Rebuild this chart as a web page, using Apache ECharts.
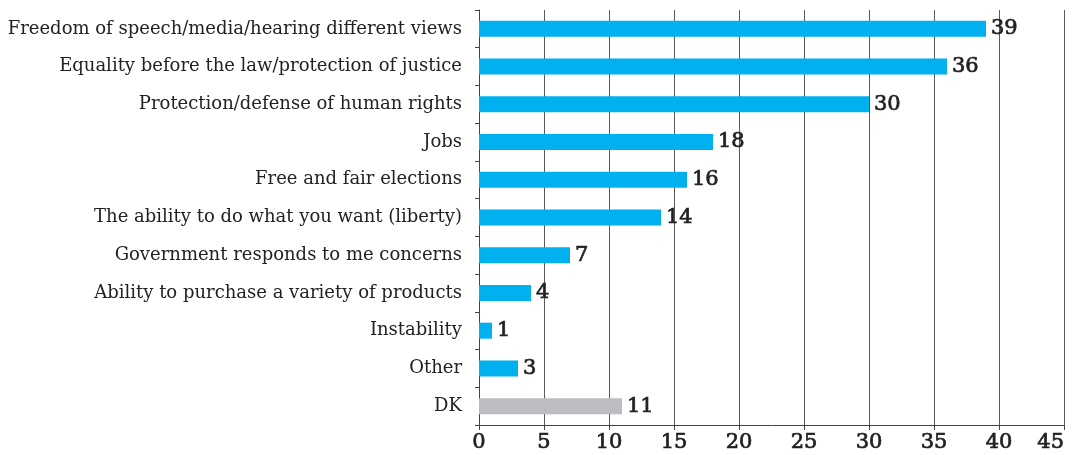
<!DOCTYPE html>
<html>
<head>
<meta charset="utf-8">
<script src="https://cdn.jsdelivr.net/npm/echarts@6/dist/echarts.min.js"></script>
<style>
  html, body { margin: 0; padding: 0; background: #fff; }
  #chart { width: 1073px; height: 455px; }
</style>
</head>
<body>
<div id="chart"></div>
<script>
// Survey responses, top to bottom
const categories = [
  'Freedom of speech/media/hearing different views',
  'Equality before the law/protection of justice',
  'Protection/defense of human rights',
  'Jobs',
  'Free and fair elections',
  'The ability to do what you want (liberty)',
  'Government responds to me concerns',
  'Ability to purchase a variety of products',
  'Instability',
  'Other',
  'DK'
];
const values = [39, 36, 30, 18, 16, 14, 7, 4, 1, 3, 11];
const xTicks = [0, 5, 10, 15, 20, 25, 30, 35, 40, 45];
const greyCategories = ['DK'];

const BLUE = '#00b0ef';
const GREY = '#bcbdc1';
const INK = '#222';
const SERIF = '"DejaVu Serif", "Liberation Serif", serif';

// numerals are set a touch heavier than the category text
const numeralStyle = {
  fontFamily: SERIF,
  fontSize: 21,
  color: INK,
  textBorderColor: INK,
  textBorderWidth: 0.7
};

const chart = echarts.init(document.getElementById('chart'), null, { renderer: 'canvas' });
chart.setOption({
  animation: false,
  grid: {
    left: 479, right: 9, top: 10, bottom: 30,
    containLabel: false,
    outerBoundsMode: 'none'
  },
  xAxis: {
    type: 'value',
    min: xTicks[0],
    max: xTicks[xTicks.length - 1],
    interval: xTicks[1] - xTicks[0],
    axisLine: { show: true, lineStyle: { color: '#444', width: 1 } },
    axisTick: { show: true, length: 5, lineStyle: { color: '#444' } },
    splitLine: { show: true, lineStyle: { color: '#5a5a5a', width: 1 } },
    axisLabel: Object.assign({ margin: 7, alignMaxLabel: 'right' }, numeralStyle)
  },
  yAxis: {
    type: 'category',
    data: categories,
    inverse: true,
    axisLine: { show: true, lineStyle: { color: '#444', width: 1 } },
    axisTick: { show: true, length: 4, lineStyle: { color: '#444' } },
    splitLine: { show: false },
    axisLabel: { fontFamily: SERIF, fontSize: 18, color: INK, margin: 17 }
  },
  series: [{
    type: 'bar',
    data: values,
    barWidth: 16,
    itemStyle: {
      color: p => greyCategories.includes(p.name) ? GREY : BLUE
    },
    label: Object.assign({
      show: true,
      position: 'right',
      distance: 5,
      formatter: p => String(p.value)
    }, numeralStyle)
  }]
});
</script>
</body>
</html>
